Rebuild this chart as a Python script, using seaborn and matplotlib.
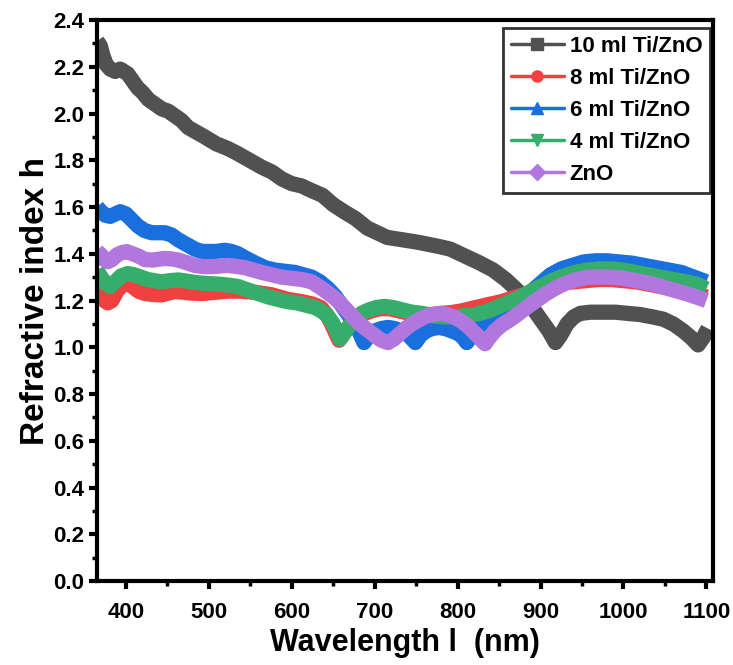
import numpy as np
import pandas as pd
import matplotlib
matplotlib.use("Agg")
import matplotlib.pyplot as plt
from matplotlib.lines import Line2D
from matplotlib.ticker import MultipleLocator, FormatStrFormatter
import seaborn as sns

# values (wavelength in nm, refractive index)
wl_10 = [365, 369, 372, 376, 381, 387, 393, 402, 408, 414, 420, 427, 435, 443, 451, 459, 467, 475,
         485, 495, 509, 523, 534, 544, 554, 564, 576, 588, 600, 612, 624, 637, 650, 663, 677, 691,
         703, 715, 733, 751, 765, 779, 791, 803, 815, 827, 843, 858, 873, 888, 900, 910, 918, 924,
         932, 940, 948, 960, 975, 990, 1005, 1020, 1035, 1048, 1060, 1072, 1082, 1090, 1096, 1102]
n_10 = [2.31, 2.29, 2.25, 2.21, 2.19, 2.18, 2.19, 2.17, 2.14, 2.11, 2.09, 2.06, 2.04, 2.02, 2.01, 1.99,
        1.97, 1.94, 1.92, 1.90, 1.87, 1.85, 1.83, 1.81, 1.79, 1.77, 1.75, 1.72, 1.70, 1.69, 1.67, 1.65,
        1.61, 1.58, 1.55, 1.51, 1.49, 1.47, 1.46, 1.45, 1.44, 1.43, 1.42, 1.40, 1.38, 1.36, 1.33, 1.29,
        1.24, 1.18, 1.12, 1.07, 1.02, 1.05, 1.10, 1.13, 1.145, 1.15, 1.15, 1.15, 1.145, 1.14, 1.13, 1.12,
        1.10, 1.07, 1.04, 1.01, 1.04, 1.08]

wl_8 = [365, 370, 374, 378, 383, 389, 395, 401, 408, 415, 423, 432, 443, 451, 459, 468, 478, 492,
        507, 523, 538, 556, 575, 595, 612, 625, 635, 642, 648, 653, 657, 662, 668, 676, 685, 695,
        706, 718, 730, 742, 755, 768, 780, 792, 804, 816, 828, 840, 853, 866, 880, 895, 910, 925,
        940, 955, 970, 985, 1000, 1015, 1030, 1045, 1060, 1075, 1088, 1100]
n_8 = [1.245, 1.22, 1.20, 1.19, 1.20, 1.24, 1.265, 1.274, 1.26, 1.24, 1.23, 1.226, 1.224, 1.232, 1.238,
       1.236, 1.232, 1.23, 1.235, 1.24, 1.24, 1.235, 1.225, 1.205, 1.195, 1.185, 1.17, 1.14, 1.10, 1.06,
       1.03, 1.055, 1.085, 1.115, 1.14, 1.155, 1.165, 1.165, 1.155, 1.145, 1.14, 1.14, 1.145, 1.148, 1.155,
       1.165, 1.175, 1.185, 1.195, 1.21, 1.225, 1.245, 1.26, 1.275, 1.28, 1.285, 1.29, 1.29, 1.285, 1.28,
       1.27, 1.26, 1.25, 1.24, 1.23, 1.215]

wl_6 = [365, 370, 375, 381, 387, 393, 400, 407, 414, 422, 431, 439, 447, 455, 463, 473, 483, 491,
        499, 509, 519, 527, 535, 545, 556, 568, 580, 592, 604, 614, 624, 634, 644, 652, 660, 668,
        676, 682, 687, 693, 700, 708, 716, 724, 732, 740, 749, 755, 762, 769, 777, 785, 793, 800,
        806, 811, 817, 825, 835, 847, 860, 873, 886, 899, 912, 925, 938, 952, 966, 980, 995, 1010,
        1025, 1040, 1055, 1070, 1085, 1100]
n_6 = [1.60, 1.58, 1.565, 1.56, 1.57, 1.58, 1.57, 1.545, 1.52, 1.50, 1.49, 1.49, 1.49, 1.48, 1.46, 1.44,
       1.42, 1.41, 1.41, 1.41, 1.415, 1.41, 1.40, 1.38, 1.36, 1.34, 1.33, 1.325, 1.32, 1.31, 1.30, 1.28,
       1.25, 1.22, 1.18, 1.14, 1.10, 1.06, 1.02, 1.05, 1.07, 1.08, 1.085, 1.08, 1.07, 1.055, 1.02, 1.05,
       1.07, 1.08, 1.085, 1.08, 1.07, 1.06, 1.045, 1.02, 1.05, 1.08, 1.10, 1.13, 1.16, 1.19, 1.23, 1.27,
       1.31, 1.335, 1.35, 1.365, 1.37, 1.37, 1.365, 1.36, 1.35, 1.34, 1.33, 1.32, 1.30, 1.28]

wl_4 = [365, 370, 375, 381, 387, 394, 402, 410, 418, 426, 434, 443, 453, 463, 473, 482, 492, 502,
        512, 523, 535, 547, 559, 571, 583, 595, 606, 617, 628, 636, 643, 649, 654, 658, 663, 669,
        676, 684, 693, 702, 712, 722, 733, 745, 757, 770, 783, 796, 809, 821, 834, 847, 860, 873,
        886, 900, 914, 928, 942, 956, 970, 985, 1000, 1015, 1030, 1045, 1060, 1075, 1088, 1100]
n_4 = [1.33, 1.30, 1.275, 1.26, 1.28, 1.305, 1.315, 1.31, 1.30, 1.29, 1.285, 1.28, 1.285, 1.288, 1.283,
       1.278, 1.274, 1.272, 1.27, 1.266, 1.26, 1.245, 1.23, 1.216, 1.205, 1.195, 1.19, 1.18, 1.17, 1.155,
       1.135, 1.105, 1.07, 1.035, 1.06, 1.09, 1.12, 1.145, 1.16, 1.17, 1.175, 1.17, 1.16, 1.15, 1.145,
       1.135, 1.13, 1.13, 1.135, 1.14, 1.152, 1.17, 1.19, 1.21, 1.235, 1.26, 1.285, 1.305, 1.32, 1.33,
       1.335, 1.335, 1.33, 1.32, 1.31, 1.30, 1.29, 1.28, 1.27, 1.25]

wl_zno = [365, 370, 374, 378, 383, 389, 395, 401, 408, 415, 423, 432, 440, 447, 455, 463, 473, 483,
          493, 504, 514, 523, 533, 544, 554, 564, 576, 588, 600, 612, 624, 637, 650, 658, 666, 674,
          682, 691, 700, 708, 716, 723, 731, 739, 747, 755, 763, 771, 779, 787, 795, 803, 811, 818,
          824, 829, 833, 838, 845, 853, 862, 872, 883, 895, 907, 919, 931, 944, 957, 970, 985, 1000,
          1015, 1030, 1045, 1060, 1075, 1088, 1100]
n_zno = [1.41, 1.395, 1.375, 1.366, 1.375, 1.395, 1.405, 1.409, 1.40, 1.39, 1.375, 1.373, 1.377, 1.38,
         1.378, 1.373, 1.362, 1.35, 1.345, 1.345, 1.348, 1.35, 1.346, 1.34, 1.33, 1.32, 1.31, 1.30, 1.295,
         1.29, 1.28, 1.25, 1.216, 1.19, 1.16, 1.13, 1.10, 1.075, 1.05, 1.03, 1.02, 1.035, 1.06, 1.085,
         1.105, 1.12, 1.135, 1.14, 1.145, 1.14, 1.13, 1.115, 1.095, 1.07, 1.05, 1.03, 1.015, 1.04, 1.07,
         1.095, 1.115, 1.14, 1.17, 1.20, 1.23, 1.255, 1.275, 1.29, 1.30, 1.30, 1.30, 1.295, 1.285, 1.275,
         1.26, 1.245, 1.23, 1.215, 1.20]

labels = ["10 ml Ti/ZnO", "8 ml Ti/ZnO", "6 ml Ti/ZnO", "4 ml Ti/ZnO", "ZnO"]
colors = ["#515151", "#F14040", "#1A6FDF", "#37AD6B", "#B177DE"]
markers = ["s", "o", "^", "v", "D"]

series = [(wl_10, n_10), (wl_8, n_8), (wl_6, n_6), (wl_4, n_4), (wl_zno, n_zno)]

sns.set_style("ticks")
plt.rcParams["font.family"] = ["Liberation Sans", "DejaVu Sans"]
plt.rcParams["font.weight"] = "bold"
plt.rcParams["axes.edgecolor"] = "black"
plt.rcParams["xtick.color"] = "black"
plt.rcParams["ytick.color"] = "black"
plt.rcParams["text.color"] = "black"
plt.rcParams["axes.labelcolor"] = "black"

fig = plt.figure(figsize=(7.33, 6.65), dpi=100)
ax = fig.add_axes([0.1323, 0.1263, 0.8404, 0.8436])

for (x, y), lab, col in zip(series, labels, colors):
    df = pd.DataFrame({"wl": x, "n": y})
    sns.lineplot(data=df, x="wl", y="n", ax=ax, color=col, linewidth=11,
                 sort=False, legend=False, solid_joinstyle="round", solid_capstyle="butt")

ax.set_xlim(365, 1108)
ax.set_ylim(0, 2.4)
ax.xaxis.set_major_locator(MultipleLocator(100))
ax.xaxis.set_minor_locator(MultipleLocator(50))
ax.yaxis.set_major_locator(MultipleLocator(0.2))
ax.yaxis.set_minor_locator(MultipleLocator(0.1))
ax.yaxis.set_major_formatter(FormatStrFormatter("%.1f"))
ax.tick_params(which="major", direction="out", length=6, width=3, labelsize=16)
ax.tick_params(which="minor", direction="out", length=3.5, width=2.5)
ax.tick_params(axis="x", which="major", pad=9)
ax.tick_params(axis="y", which="major", pad=3)
for lbl in ax.get_xticklabels() + ax.get_yticklabels():
    lbl.set_fontweight("bold")
for sp in ax.spines.values():
    sp.set_linewidth(3)
    sp.set_visible(True)

ax.set_xlabel("Wavelength l  (nm)", fontsize=22, fontweight="bold", labelpad=4)
ax.set_ylabel("Refractive index h", fontsize=24, fontweight="bold", labelpad=2)

handles = [Line2D([0], [0], color=c, lw=2.5, marker=m, markersize=8)
           for c, m in zip(colors, markers)]
leg = ax.legend(handles, labels, loc="upper right", bbox_to_anchor=(0.995, 0.986),
                fontsize=16, frameon=True, fancybox=False, edgecolor="black",
                handlelength=2.4, handletextpad=0.25, labelspacing=0.5,
                borderpad=0.35, borderaxespad=0.0)
leg.get_frame().set_linewidth(2)
for t in leg.get_texts():
    t.set_fontweight("bold")

fig.savefig("out.png", dpi=100)
